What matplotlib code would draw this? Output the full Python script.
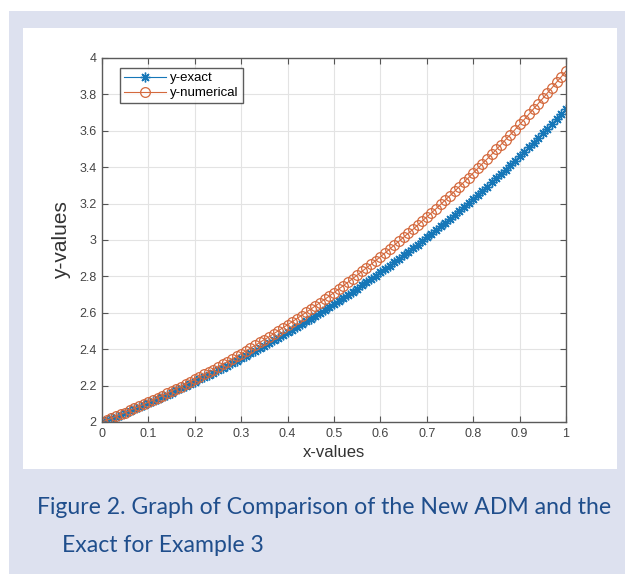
import numpy as np
import matplotlib.pyplot as plt
from matplotlib.patches import Rectangle
from matplotlib.ticker import FormatStrFormatter

# x grid, step 0.01 (one marker per step)
x_step = 0.01
x = np.round(np.arange(101) * x_step, 2)

# values
y_exact = [2.000, 2.010, 2.020, 2.030, 2.041, 2.051, 2.062, 2.073, 2.083, 2.094,
           2.105, 2.116, 2.128, 2.139, 2.150, 2.162, 2.174, 2.185, 2.197, 2.209,
           2.221, 2.234, 2.246, 2.259, 2.271, 2.284, 2.297, 2.310, 2.323, 2.336,
           2.350, 2.363, 2.377, 2.391, 2.405, 2.419, 2.433, 2.448, 2.462, 2.477,
           2.492, 2.507, 2.522, 2.537, 2.553, 2.568, 2.584, 2.600, 2.616, 2.632,
           2.649, 2.665, 2.682, 2.699, 2.716, 2.733, 2.751, 2.768, 2.786, 2.804,
           2.822, 2.840, 2.859, 2.878, 2.897, 2.916, 2.935, 2.954, 2.974, 2.994,
           3.014, 3.034, 3.054, 3.075, 3.096, 3.117, 3.138, 3.160, 3.182, 3.203,
           3.226, 3.248, 3.271, 3.293, 3.316, 3.340, 3.363, 3.387, 3.411, 3.435,
           3.460, 3.484, 3.509, 3.535, 3.560, 3.586, 3.612, 3.638, 3.665, 3.691,
           3.718]
y_numerical = [2.000, 2.010, 2.020, 2.032, 2.042, 2.052, 2.064, 2.075, 2.086, 2.097,
               2.109, 2.121, 2.133, 2.145, 2.157, 2.170, 2.183, 2.195, 2.208, 2.221,
               2.234, 2.248, 2.261, 2.275, 2.288, 2.303, 2.317, 2.331, 2.346, 2.360,
               2.376, 2.390, 2.406, 2.421, 2.437, 2.453, 2.468, 2.485, 2.501, 2.518,
               2.534, 2.551, 2.568, 2.585, 2.603, 2.620, 2.638, 2.656, 2.674, 2.692,
               2.711, 2.730, 2.749, 2.768, 2.787, 2.807, 2.827, 2.847, 2.867, 2.887,
               2.908, 2.929, 2.950, 2.972, 2.993, 3.015, 3.037, 3.058, 3.081, 3.104,
               3.127, 3.149, 3.172, 3.196, 3.220, 3.244, 3.268, 3.293, 3.318, 3.342,
               3.368, 3.393, 3.420, 3.445, 3.471, 3.498, 3.524, 3.552, 3.579, 3.606,
               3.635, 3.662, 3.691, 3.720, 3.749, 3.778, 3.808, 3.837, 3.868, 3.897,
               3.928]

xticks = [0, 0.1, 0.2, 0.3, 0.4, 0.5, 0.6, 0.7, 0.8, 0.9, 1]
yticks = [2, 2.2, 2.4, 2.6, 2.8, 3, 3.2, 3.4, 3.6, 3.8, 4]
caption = ['Figure 2. Graph of Comparison of the New ADM and the',
           'Exact for Example 3']

plt.rcParams['font.family'] = ['Liberation Sans', 'DejaVu Sans']

fig = plt.figure(figsize=(6.25, 5.74), dpi=100)
fig.patch.set_facecolor('white')
W, H = 625, 574
# lavender frame and white plot panel
fig.patches.append(Rectangle((9 / W, 0), 1 - 9 / W, 1 - 11 / H, transform=fig.transFigure,
                             facecolor='#dde1ef', edgecolor='none', zorder=-3))
fig.patches.append(Rectangle((23 / W, 1 - 469 / H), (617 - 23) / W, (469 - 28) / H,
                             transform=fig.transFigure, facecolor='white',
                             edgecolor='none', zorder=-2))

ax = fig.add_axes([102 / W, 1 - 422 / H, (566 - 102) / W, (422 - 58) / H])
ax.plot(x, y_exact, color='#1677b8', lw=0.8, marker=(8, 2, 0), ms=7, mew=1.0,
        label='y-exact')
ax.plot(x, y_numerical, color='#d4693d', lw=0.8, marker='o', ms=7, mew=0.9,
        mfc='none', label='y-numerical')

ax.set_xlim(0, 1)
ax.set_ylim(2, 4)
ax.set_xticks(xticks)
ax.set_yticks(yticks)
ax.xaxis.set_major_formatter(FormatStrFormatter('%g'))
ax.yaxis.set_major_formatter(FormatStrFormatter('%g'))
ax.grid(True, color='#e3e3e3', lw=0.8)
ax.set_axisbelow(True)
ax.tick_params(direction='in', top=True, right=True, length=4, width=0.8,
               colors='#555555', labelsize=9, labelcolor='#444444', pad=4)
for s in ax.spines.values():
    s.set_color('#5a5a5a')
    s.set_linewidth(1.0)
ax.set_xlabel('x-values', fontsize=12, color='#333333', labelpad=4)
ax.set_ylabel('y-values', fontsize=15, color='#333333', labelpad=6)

leg = ax.legend(loc='upper left', bbox_to_anchor=(0.025, 0.99), fontsize=9.5,
                frameon=True, fancybox=False, handlelength=3.2, borderpad=0.3,
                labelspacing=0.2, handletextpad=0.3)
leg.get_frame().set_edgecolor('#333333')
leg.get_frame().set_linewidth(1.0)

fig.text(37 / W, 1 - 507 / H, caption[0], fontsize=16.6, color='#1f4e8c',
         family=['Lato', 'DejaVu Sans'], va='center', ha='left')
fig.text(62 / W, 1 - 545 / H, caption[1], fontsize=16.6, color='#1f4e8c',
         family=['Lato', 'DejaVu Sans'], va='center', ha='left')

fig.savefig('out.png', dpi=100)
